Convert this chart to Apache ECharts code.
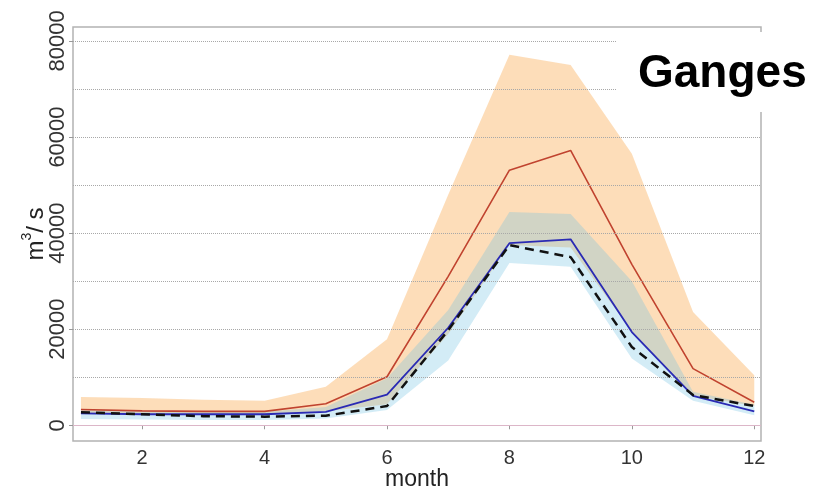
<!DOCTYPE html>
<html>
<head>
<meta charset="utf-8">
<script src="https://cdn.jsdelivr.net/npm/echarts@6/dist/echarts.min.js"></script>
<style>
  html, body { margin: 0; padding: 0; background: #fff; }
  #chart { width: 829px; height: 487px; }
</style>
</head>
<body>
<div id="chart"></div>
<script>
// monthly discharge, Ganges (m3/s)
var months = [1, 2, 3, 4, 5, 6, 7, 8, 9, 10, 11, 12];
var redLine = [3300, 3000, 2900, 2900, 4500, 10100, 31000, 53100, 57200, 33500, 11800, 4800];
var blueLine = [2500, 2300, 2300, 2300, 2800, 6400, 20300, 37900, 38700, 19400, 6100, 2900];
var observed = [2700, 2300, 1900, 1800, 2000, 4000, 19800, 37500, 35000, 16300, 6300, 4000];
var orangeHi = [5900, 5700, 5300, 5100, 8000, 17900, 48000, 77100, 75000, 56500, 23600, 10400];
var orangeLo = [2600, 2400, 2300, 2300, 2900, 4400, 19000, 37500, 37000, 19500, 6200, 4000];
var blueHi = [3200, 3000, 2800, 2800, 3800, 9800, 24000, 44400, 44000, 30000, 7000, 4300];
var blueLo = [1300, 1200, 1100, 1100, 1400, 3200, 13500, 33800, 33000, 13900, 5100, 2100];
var xTicks = [2, 4, 6, 8, 10, 12];
var yTicks = [0, 20000, 40000, 60000, 80000];
var gridValues = [10000, 20000, 30000, 40000, 50000, 60000, 70000, 80000];

function pairs(vals) {
  return months.map(function (m, i) { return [m, vals[i]]; });
}

var FONT = 'Liberation Sans';

// band between lo and hi, drawn as one polygon through the axes
function band(name, lo, hi, color, z) {
  return {
    name: name, type: 'custom', z: z, silent: true,
    data: months.map(function (m, i) { return [m, lo[i], hi[i]]; }),
    encode: { x: 0, y: [1, 2] },
    renderItem: function (params, api) {
      if (params.dataIndex !== 0) return null;
      var pts = [];
      for (var i = 0; i < months.length; i++) pts.push(api.coord([months[i], hi[i]]));
      for (var j = months.length - 1; j >= 0; j--) pts.push(api.coord([months[j], lo[j]]));
      return { type: 'polygon', shape: { points: pts }, style: { fill: color } };
    }
  };
}

var chart = echarts.init(document.getElementById('chart'));

var series = [
  band('orange', orangeLo, orangeHi, 'rgba(251,187,115,0.5)', 1),
  band('blue', blueLo, blueHi, 'rgba(110,192,226,0.3)', 2)
];

series.push({
  name: 'grid', type: 'line', data: [], z: 3, silent: true,
  markLine: {
    symbol: 'none', silent: true, animation: false,
    label: { show: false },
    lineStyle: { color: '#a8a8a8', type: 'dotted', width: 1 },
    data: gridValues.map(function (v) { return { yAxis: v }; })
      .concat([{ yAxis: 0, lineStyle: { color: '#dcb6c8', type: 'solid', width: 1 } }])
  }
});

series.push({
  name: 'red', type: 'line', data: pairs(redLine), symbol: 'none', z: 4,
  lineStyle: { color: '#c0432f', width: 1.6 }
});
series.push({
  name: 'blue', type: 'line', data: pairs(blueLine), symbol: 'none', z: 5,
  lineStyle: { color: '#2a2ab4', width: 1.8 }
});
series.push({
  name: 'obs', type: 'line', data: pairs(observed), symbol: 'none', z: 6,
  lineStyle: { color: '#111', width: 2.5, type: [9, 6] }
});

chart.setOption({
  animation: false,
  backgroundColor: '#fff',
  grid: {
    left: 73, right: 68, top: 27, bottom: 46, outerBoundsMode: 'none', containLabel: false,
    show: true, borderColor: '#b3b3b3', borderWidth: 1.5, backgroundColor: 'transparent'
  },
  xAxis: {
    type: 'value', min: 0.87, max: 12.11,
    name: 'month', nameLocation: 'middle', nameGap: 27, nameMoveOverlap: false,
    nameTextStyle: { fontFamily: FONT, fontSize: 23, color: '#222' },
    axisLine: { show: false },
    axisTick: { show: true, length: 4, lineStyle: { color: '#999' }, customValues: xTicks },
    axisLabel: { fontFamily: FONT, fontSize: 20, color: '#333', margin: 7, customValues: xTicks },
    splitLine: { show: false }
  },
  yAxis: {
    type: 'value', min: -3270, max: 82900,
    name: '{a|m}{b|3}{a|/ s}', nameLocation: 'middle', nameGap: 25, nameRotate: 90, nameMoveOverlap: false,
    nameTextStyle: {
      rich: {
        a: { fontFamily: FONT, fontSize: 24, color: '#222', lineHeight: 28, verticalAlign: 'bottom' },
        b: { fontFamily: FONT, fontSize: 14, color: '#222', lineHeight: 14, verticalAlign: 'top' }
      }
    },
    axisLine: { show: false },
    axisTick: { show: true, length: 4, lineStyle: { color: '#999' }, customValues: yTicks },
    axisLabel: {
      fontFamily: FONT, fontSize: 22, color: '#333', rotate: 90, margin: 4, customValues: yTicks,
      formatter: function (v) { return String(v); }
    },
    splitLine: { show: false }
  },
  graphic: [
    { type: 'rect', z: 100, shape: { x: 616, y: 32, width: 213, height: 80 }, style: { fill: '#fff' } },
    {
      type: 'text', z: 101, x: 638, y: 74,
      style: { text: 'Ganges', font: 'bold 46px "Liberation Sans"', fill: '#000', verticalAlign: 'middle' }
    }
  ],
  series: series
});
</script>
</body>
</html>
